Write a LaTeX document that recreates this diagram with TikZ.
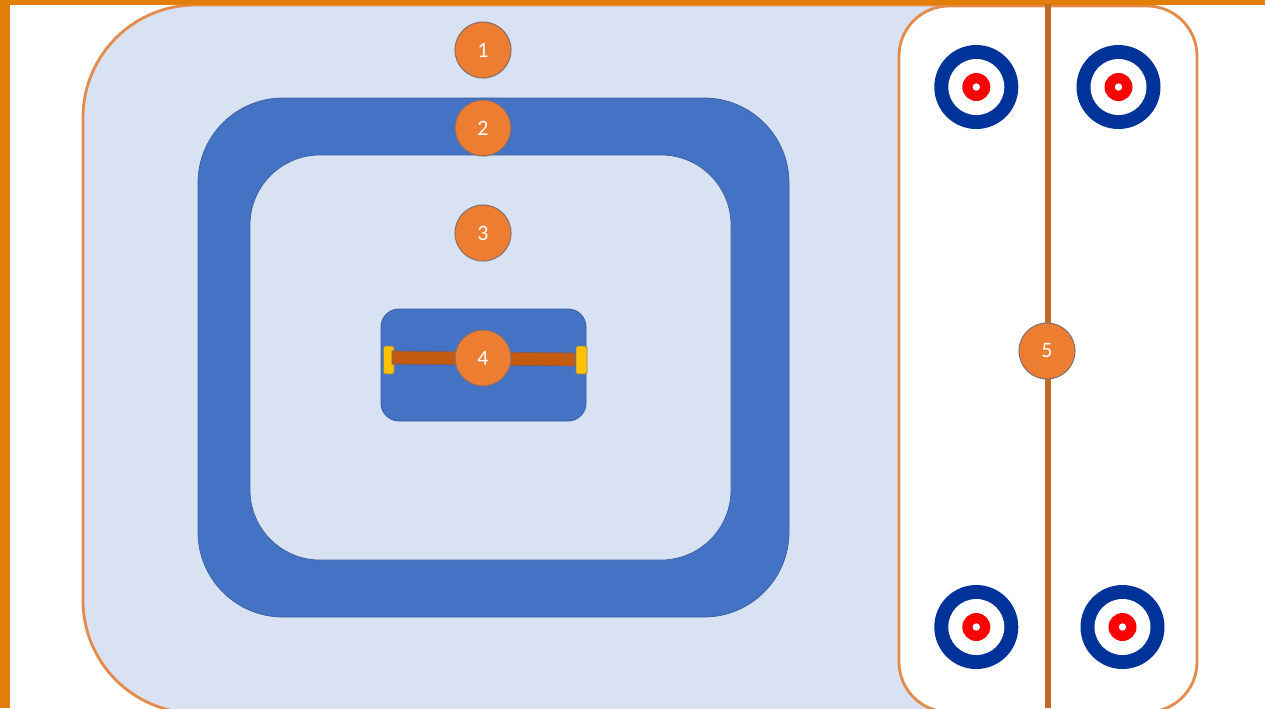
\documentclass[tikz,border=0pt]{standalone}
\usepackage{fontspec}
\setmainfont{Carlito}
\definecolor{frameorange}{HTML}{E27F08}
\definecolor{lineorange}{HTML}{E48B4B}
\definecolor{pale}{HTML}{D9E2F3}
\definecolor{midblue}{HTML}{4472C4}
\definecolor{edgeblue}{HTML}{3A5F9F}
\definecolor{bandblue}{HTML}{003399}
\definecolor{barbrown}{HTML}{C55A11}
\definecolor{midline}{HTML}{BE6A28}
\definecolor{capyellow}{HTML}{FFC000}
\definecolor{markerfill}{HTML}{ED7D31}
\definecolor{markeredge}{HTML}{86706A}
\tikzset{
  marker/.style={circle, draw=markeredge, line width=0.6pt, fill=markerfill, text=white, minimum size=1.12cm, inner sep=0pt, font=\fontsize{12.5}{15}\selectfont},
  capbox/.style={draw=edgeblue!60!capyellow, line width=0.4pt, fill=capyellow, rounded corners=0.03cm}
}
\begin{document}
\begin{tikzpicture}[x=0.02cm, y=-0.02cm]
\useasboundingbox (0,0) rectangle (1265,708);

% outer area and track
\draw[lineorange, line width=1.6pt, fill=pale, rounded corners=2.25cm] (83,5) rectangle (1100,713);
\draw[lineorange, line width=1.6pt, fill=white, rounded corners=1cm] (899,6) rectangle (1197,712);

% frame
\fill[frameorange] (0,0) rectangle (1265,5);
\fill[frameorange] (0,0) rectangle (10,708);

% ring
\draw[edgeblue, line width=0.4pt, fill=midblue, rounded corners=1.7cm] (198,98) rectangle (789,617);
\draw[edgeblue, line width=0.4pt, fill=pale, rounded corners=1.4cm] (250,155) rectangle (731,560);

% box in the middle
\draw[edgeblue, line width=0.5pt, fill=midblue, rounded corners=0.36cm] (381,309) rectangle (586,421);
\draw[capbox] (383.5,346) rectangle (394,374);
\draw[edgeblue!50!barbrown, line width=0.4pt, fill=barbrown] (392,351) -- (575,353) -- (575,366) -- (392,364) -- cycle;
\draw[capbox] (576,346) rectangle (587,374);

% targets
\foreach \tx/\ty in {976.3/87, 1118.5/87, 976.3/627, 1122.5/627} {
  \fill[bandblue] (\tx,\ty) circle (42);
  \fill[white] (\tx,\ty) circle (28);
  \fill[red] (\tx,\ty) circle (14);
  \fill[white] (\tx,\ty) circle (3.7);
}

% centre line
\coordinate (linetop) at (1048.3,4);
\coordinate (linebottom) at (1048.3,708);
\draw[midline, line width=3.2pt] (linetop) -- (linebottom);

% numbers
\node[marker] (one) at (483,50) {1};
\node[marker] (two) at (483,128) {2};
\node[marker] (three) at (483,233) {3};
\node[marker] (four) at (483,358) {4};
\node[marker] (five) at (1047,351) {5};
\end{tikzpicture}
\end{document}
